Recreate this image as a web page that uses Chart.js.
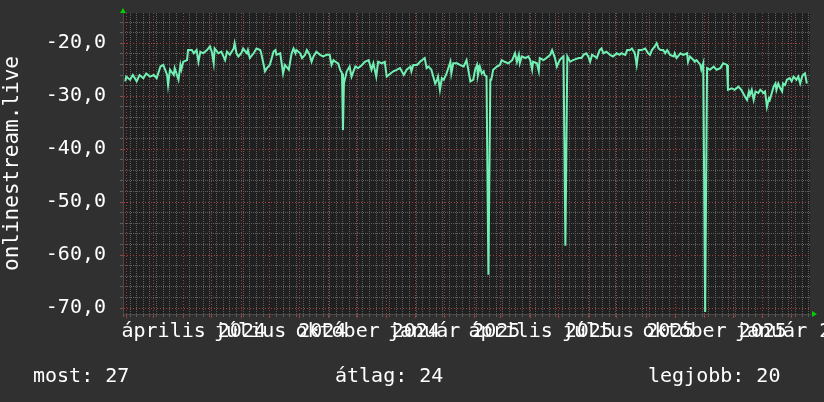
<!DOCTYPE html>
<html>
<head>
<meta charset="utf-8">
<script src="https://cdn.jsdelivr.net/npm/chart.js@4/dist/chart.umd.min.js"></script>
<style>
  body { margin: 0; background: #303030; }
  #wrap { position: relative; width: 824px; height: 402px; }
  .foot { position: absolute; top: 363px; font: 20px "DejaVu Sans Mono", monospace; line-height: 24px; color: #fff; white-space: pre; }
</style>
</head>
<body>
<div id="wrap">
  <canvas id="rankChart" width="824" height="402"></canvas>
  <div class="foot" style="left:33px">most: 27</div>
  <div class="foot" style="left:335px">átlag: 24</div>
  <div class="foot" style="left:648px">legjobb: 20</div>
</div>
<script>
// days counted from 2024-01-01, rank stored as a negative number (rrd style)
const days = [30,31,35,38,42,45,49,52,56,60,63,67,70,74,75,77,81,82,86,88,89,91,95,96,100,102,105,107,109,112,116,119,121,123,124,128,131,135,137,140,144,145,147,149,152,154,158,159,161,165,168,172,173,177,179,182,186,188,189,193,196,198,202,205,207,209,210,214,216,219,221,224,226,228,231,235,238,242,245,247,249,251,254,256,258,259,260,263,266,268,270,272,275,279,282,286,289,291,294,296,300,303,305,309,312,316,319,323,326,330,331,333,337,340,342,345,347,349,352,356,358,359,361,363,365,368,372,373,375,379,382,
  386,389,393,396,398,400,401,403,405,407,408,410,412,414,415,417,421,424,426,429,433,437,440,442,444,445,447,451,454,456,458,459,463,465,466,470,473,477,479,482,484,487,489,491,493,495,498,501,507,510,512,515,517,519,521,524,526,529,531,533,536,540,543,545,547,550,552,556,558,561,563,566,568,570,573,577,580,582,584,587,589,591,593,596,598,600,603,607,608,610,614,617,621,622,624,628,629,631,635,636,638,640,642,645,649,652,656,659,663,664,668,671,675,678,682,684,686,687,689,691,693,696,698,700,701,703,705,707,708,712,714,715,717,719,721,722,724,726,729,731,733,736,738,740,742,743,745,747];
const rank = [-27.2,-26.3,-26.9,-26.0,-27.2,-26.0,-26.6,-25.7,-26.3,-26.0,-26.6,-24.4,-24.1,-26.0,-27.9,-25.0,-26.0,-24.7,-26.9,-24.1,-25.0,-23.5,-23.2,-21.3,-21.3,-21.9,-21.3,-23.5,-21.6,-21.9,-21.3,-20.6,-21.6,-23.8,-21.0,-21.9,-21.6,-23.2,-21.6,-22.2,-21.0,-20.0,-21.9,-22.5,-21.9,-21.0,-21.9,-21.3,-22.8,-21.9,-21.0,-21.3,-21.9,-25.3,-24.7,-24.1,-21.6,-21.3,-22.2,-21.9,-25.7,-24.1,-25.0,-21.9,-21.0,-21.9,-21.3,-21.9,-22.8,-22.2,-21.3,-22.2,-23.5,-22.5,-21.6,-22.2,-22.5,-22.2,-22.2,-24.1,-23.2,-23.5,-23.8,-25.0,-25.7,-36.4,-27.6,-25.3,-24.4,-26.3,-25.3,-24.4,-24.7,-24.1,-23.5,-23.2,-25.0,-23.8,-26.3,-23.5,-23.8,-23.5,-26.3,-25.7,-25.3,-25.0,-24.7,-26.0,-25.0,-24.4,-25.3,-24.1,-24.1,-23.5,-23.2,-22.8,-24.7,-24.4,-25.0,-27.6,-26.9,-26.3,-28.8,-26.6,-26.9,-25.7,-23.5,-25.7,-23.8,-23.8,-24.1,
  -24.4,-23.2,-27.2,-26.9,-25.0,-24.1,-26.0,-24.4,-25.7,-25.3,-26.0,-26.3,-63.7,-26.9,-26.9,-25.0,-24.4,-24.1,-23.2,-23.5,-23.8,-23.2,-21.9,-23.5,-22.2,-23.8,-22.5,-22.8,-22.5,-23.2,-25.0,-23.5,-23.8,-25.3,-22.8,-23.2,-22.8,-22.2,-21.3,-22.8,-24.4,-23.2,-22.8,-22.5,-58.2,-22.5,-23.5,-23.2,-22.8,-22.8,-22.2,-21.9,-22.5,-23.5,-22.2,-22.5,-22.8,-21.3,-21.0,-21.9,-21.6,-22.2,-22.5,-22.2,-21.9,-22.2,-21.9,-22.2,-21.3,-21.3,-21.0,-21.9,-24.1,-21.3,-21.3,-21.0,-21.9,-22.2,-21.3,-20.6,-20.0,-21.0,-21.3,-21.3,-21.9,-21.3,-22.2,-22.5,-21.9,-22.8,-21.9,-22.2,-21.9,-23.5,-22.5,-23.2,-23.5,-23.2,-24.1,-25.0,-23.8,-70.7,-24.7,-25.0,-24.4,-25.0,-24.7,-23.8,-24.1,-28.8,-28.5,-28.8,-28.2,-28.8,-30.1,-30.7,-29.1,-29.8,-28.8,-30.7,-29.1,-29.4,-28.8,-29.1,-29.4,-29.1,-32.0,-30.4,-30.7,-28.2,-27.6,-28.8,-27.6,-28.5,-29.1,-27.6,-27.9,-26.9,-26.6,-27.2,-26.3,-26.9,-26.3,-27.6,-26.3,-26.0,-25.7,-27.6];

const xLabels = ['április 2024', 'július 2024', 'október 2024', 'január 2025',
                 'április 2025', 'július 2025', 'október 2025', 'január 2026'];
const xLabelDays = [102, 193, 285, 376, 467, 559, 650, 741];
const yTicks = [-20, -30, -40, -50, -60, -70];

const xMin = 27.6, xMax = 750.3;
const yMin = -71.1, yMax = -14.3;

const mono = '"DejaVu Sans Mono", monospace';
const gridGrey = '#5e5e5e';
const gridRed = '#a04040';

// month starts for the major grid, mondays for the minor one
const day0 = Date.UTC(2024, 0, 1);
const monthTicks = [];
for (let m = 0; m < 26; m++) {
    const d = (Date.UTC(2024, m, 1) - day0) / 864e5;
    if (d >= xMin && d <= xMax) monthTicks.push(d);
}
const weekTicks = [];
for (let d = 28; d <= xMax; d += 7) {
    if (!monthTicks.includes(d)) weekTicks.push(d);
}
const yMinorTicks = [];
for (let v = -70; v <= -16; v += 2) if (v % 10 !== 0) yMinorTicks.push(v);

const toTicks = arr => arr.map(v => ({ value: v }));

const plotBg = {
    id: 'plotBg',
    beforeDraw(chart) {
        const a = chart.chartArea, ctx = chart.ctx;
        ctx.save();
        ctx.fillStyle = '#202020';
        ctx.fillRect(a.left, a.top, a.right - a.left, a.bottom - a.top);
        ctx.restore();
    }
};

const arrows = {
    id: 'arrows',
    afterDraw(chart) {
        const a = chart.chartArea, ctx = chart.ctx;
        ctx.save();
        ctx.fillStyle = '#00d000';
        ctx.beginPath();
        ctx.moveTo(a.left - 3, a.top);
        ctx.lineTo(a.left + 3, a.top);
        ctx.lineTo(a.left, a.top - 5);
        ctx.fill();
        ctx.beginPath();
        ctx.moveTo(a.right + 2, a.bottom - 3);
        ctx.lineTo(a.right + 2, a.bottom + 3);
        ctx.lineTo(a.right + 7, a.bottom);
        ctx.fill();
        ctx.restore();
    }
};

const noPad = s => { s.paddingLeft = 0; s.paddingRight = 0; s.paddingTop = 0; s.paddingBottom = 0; };

new Chart(document.getElementById('rankChart').getContext('2d'), {
    type: 'line',
    data: {
        datasets: [{
            data: days.map((d, i) => ({ x: d, y: rank[i] })),
            borderColor: '#72f0b4',
            borderWidth: 2,
            pointRadius: 0,
            tension: 0,
            fill: false,
            xAxisID: 'x',
            yAxisID: 'y'
        }]
    },
    options: {
        responsive: false,
        animation: false,
        layout: { padding: { top: 13, right: 14, left: 0, bottom: 0 } },
        plugins: { legend: { display: false }, tooltip: { enabled: false } },
        scales: {
            xMinor: {
                type: 'linear', position: 'bottom', min: xMin, max: xMax,
                afterBuildTicks: s => { s.ticks = toTicks(weekTicks); },
                afterFit: s => { s.height = 0; noPad(s); },
                ticks: { display: false },
                grid: { color: gridGrey, tickLength: 3 },
                border: { display: false, dash: [1, 1] }
            },
            yMinor: {
                type: 'linear', position: 'left', min: yMin, max: yMax,
                afterBuildTicks: s => { s.ticks = toTicks(yMinorTicks); },
                afterFit: s => { s.width = 0; noPad(s); },
                ticks: { display: false },
                grid: { color: gridGrey, tickLength: 3 },
                border: { display: false, dash: [1, 1] }
            },
            xMonth: {
                type: 'linear', position: 'bottom', min: xMin, max: xMax,
                afterBuildTicks: s => { s.ticks = toTicks(monthTicks); },
                afterFit: s => { s.height = 0; noPad(s); },
                ticks: { display: false },
                grid: { color: gridRed, tickLength: 4 },
                border: { display: false, dash: [1, 2] }
            },
            x: {
                type: 'linear', position: 'bottom', min: xMin, max: xMax,
                afterBuildTicks: s => { s.ticks = toTicks(xLabelDays); },
                afterFit: s => { s.height = 88; noPad(s); },
                grid: { display: false, drawTicks: false },
                border: { display: true, color: '#4a4a4a' },
                ticks: {
                    autoSkip: false, maxRotation: 0, minRotation: 0, padding: 6,
                    color: '#ffffff', font: { family: mono, size: 20 },
                    callback: (v, i) => xLabels[i]
                }
            },
            y: {
                type: 'linear', position: 'left', min: yMin, max: yMax,
                afterBuildTicks: s => { s.ticks = toTicks(yTicks); },
                afterFit: s => { s.width = 123; noPad(s); },
                grid: { color: gridRed, tickLength: 3 },
                border: { display: true, color: '#4a4a4a', dash: [1, 2] },
                ticks: {
                    padding: 14, color: '#ffffff', font: { family: mono, size: 20 },
                    callback: v => v.toFixed(1).replace('.', ',')
                },
                title: {
                    display: true, text: 'onlinestream.live', color: '#ffffff',
                    font: { family: mono, size: 21 }, padding: 0
                }
            }
        }
    },
    plugins: [plotBg, arrows]
});
</script>
</body>
</html>
